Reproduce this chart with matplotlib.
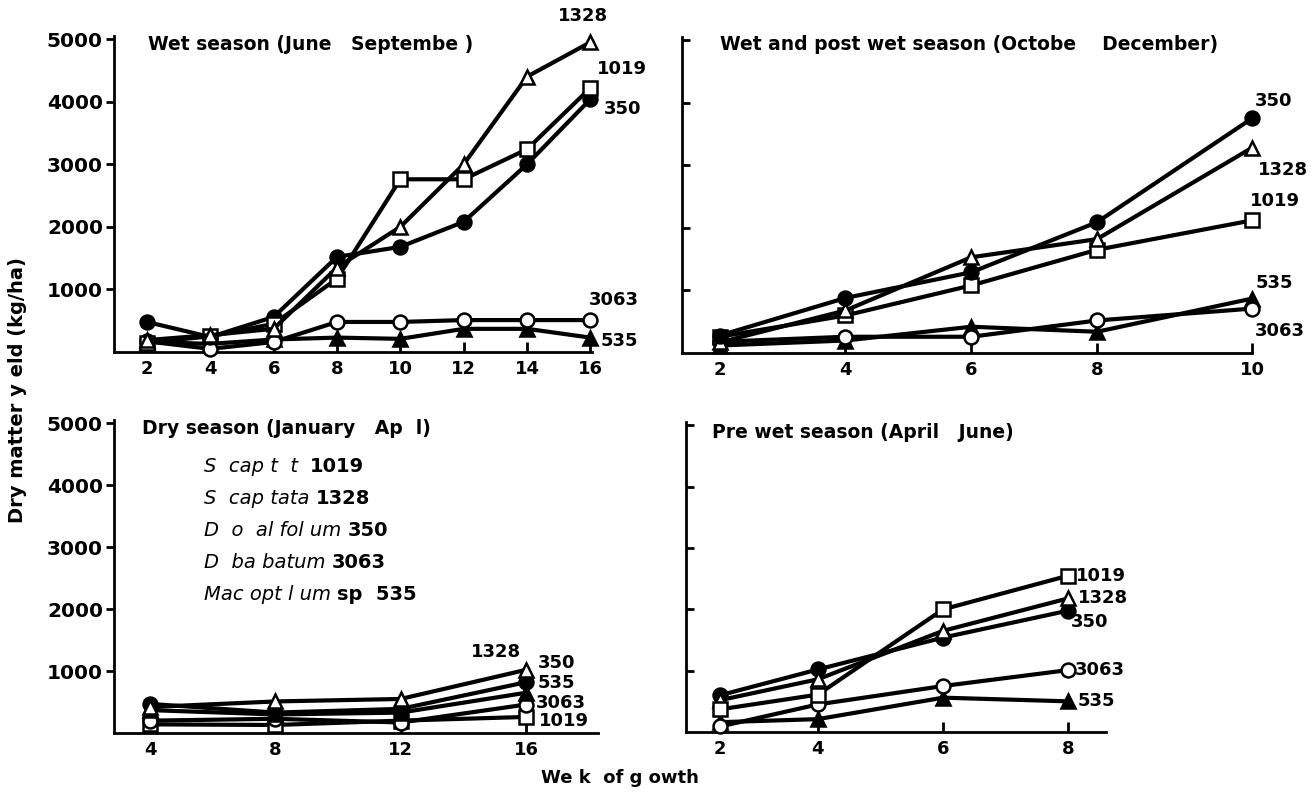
import numpy as np
import matplotlib
matplotlib.use("Agg")
import matplotlib.pyplot as plt

plt.rcParams["font.family"] = ["DejaVu Sans"]
plt.rcParams["font.weight"] = "bold"

# ---- data (kg/ha) ----
weeks_wet = [2, 4, 6, 8, 10, 12, 14, 16]
wet_1328 = [190, 270, 370, 1350, 2000, 3000, 4400, 4950]
wet_1019 = [150, 250, 450, 1170, 2760, 2760, 3240, 4220]
wet_350 = [480, 240, 560, 1520, 1680, 2080, 3000, 4040]
wet_3063 = [170, 50, 160, 480, 480, 510, 510, 510]
wet_535 = [160, 130, 200, 230, 210, 370, 370, 230]

weeks_post = [2, 4, 6, 8, 10]
post_1328 = [170, 680, 1530, 1820, 3280]
post_1019 = [260, 600, 1080, 1650, 2120]
post_350 = [280, 880, 1290, 2090, 3750]
post_3063 = [180, 260, 260, 520, 710]
post_535 = [120, 200, 420, 340, 870]

weeks_dry = [4, 8, 12, 16]
dry_1328 = [420, 510, 550, 1020]
dry_1019 = [140, 130, 200, 260]
dry_350 = [470, 330, 390, 820]
dry_3063 = [200, 230, 170, 460]
dry_535 = [370, 300, 330, 650]

weeks_pre = [2, 4, 6, 8]
pre_1328 = [520, 860, 1650, 2180]
pre_1019 = [370, 610, 2000, 2550]
pre_350 = [600, 1020, 1540, 1980]
pre_3063 = [90, 450, 750, 1010]
pre_535 = [160, 210, 560, 500]

legend_species = ["S  cap t  t ", "S  cap tata", "D  o  al fol um",
                  "D  ba batum", "Mac opt l um"]
legend_codes = ["1019", "1328", "350", "3063", "sp  535"]

titles = ["Wet season (June   Septembe )",
          "Wet and post wet season (Octobe    December)",
          "Dry season (January   Ap  l)",
          "Pre wet season (April   June)"]

# marker style per accession
styles = {
    "1328": dict(marker="^", mfc="white"),
    "1019": dict(marker="s", mfc="white"),
    "350": dict(marker="o", mfc="black"),
    "3063": dict(marker="o", mfc="white"),
    "535": dict(marker="^", mfc="black"),
}


def draw(ax, weeks, series, offsets):
    for name, vals in series:
        ax.plot(weeks, vals, color="black", lw=3, ms=10, mec="black",
                mew=1.8, zorder=3, clip_on=False, **styles[name])
    for name, vals in series:
        dx, dy, ha = offsets[name]
        ax.annotate(name, xy=(weeks[-1], vals[-1]), xytext=(dx, -dy),
                    textcoords="offset pixels", ha=ha, va="center",
                    fontsize=13, fontweight="bold")


def style_axes(ax, show_y):
    for s in ["top", "right"]:
        ax.spines[s].set_visible(False)
    ax.spines["left"].set_linewidth(2)
    ax.spines["bottom"].set_linewidth(2)
    ax.set_ylim(0, 5050)
    ax.set_yticks([1000, 2000, 3000, 4000, 5000])
    ax.tick_params(axis="x", direction="in", length=7, width=2,
                   labelsize=13, pad=6)
    if show_y:
        ax.tick_params(axis="y", direction="out", length=6, width=2,
                       labelsize=14.5, pad=2)
    else:
        ax.tick_params(axis="y", direction="in", length=6, width=2,
                       labelleft=False)
    for lab in ax.get_xticklabels() + ax.get_yticklabels():
        lab.set_fontweight("bold")


fig = plt.figure(figsize=(13.12, 7.96), dpi=100)
ax1 = fig.add_axes([0.0869, 0.5578, 0.3643, 0.397])
ax2 = fig.add_axes([0.5198, 0.5565, 0.4345, 0.397])
ax3 = fig.add_axes([0.0869, 0.0791, 0.3689, 0.393])
ax4 = fig.add_axes([0.5229, 0.0804, 0.3200, 0.389])

# top left
draw(ax1, weeks_wet, [("535", wet_535), ("3063", wet_3063), ("350", wet_350),
                      ("1019", wet_1019), ("1328", wet_1328)],
     {"1328": (-7, -26, "center"), "1019": (7, -19, "left"),
      "350": (13, 10, "left"), "3063": (-2, -20, "left"),
      "535": (10, 3, "left")})
ax1.set_xlim(0.96, 16.05)
ax1.set_xticks(weeks_wet)
style_axes(ax1, True)


# top right: week 10 sits further out on the original axis
def fwd_post(x):
    x = np.asarray(x, dtype=float)
    return np.where(x <= 8, x, 8 + (x - 8) * 1.233)


def inv_post(y):
    y = np.asarray(y, dtype=float)
    return np.where(y <= 8, y, 8 + (y - 8) / 1.233)


ax2.set_xscale("function", functions=(fwd_post, inv_post))
draw(ax2, weeks_post, [("535", post_535), ("3063", post_3063),
                       ("1019", post_1019), ("1328", post_1328),
                       ("350", post_350)],
     {"350": (3, -17, "left"), "1328": (6, 22, "left"),
      "1019": (-2, -19, "left"), "535": (4, -16, "left"),
      "3063": (3, 22, "left")})
ax2.set_xlim(1.4, 10)
ax2.set_xticks(weeks_post)
style_axes(ax2, False)

# bottom left
draw(ax3, weeks_dry, [("1019", dry_1019), ("3063", dry_3063),
                      ("535", dry_535), ("350", dry_350),
                      ("1328", dry_1328)],
     {"1328": (-5, -18, "right"), "350": (12, -19, "left"),
      "535": (12, -10, "left"), "3063": (10, -2, "left"),
      "1019": (13, 4, "left")})
ax3.set_xlim(2.85, 18.3)
ax3.set_xticks(weeks_dry)
style_axes(ax3, True)


# bottom right: weeks 2-4 are closer together on the original axis
def fwd_pre(x):
    x = np.asarray(x, dtype=float)
    return np.where(x >= 4, x, 4 - (4 - x) * 0.78)


def inv_pre(y):
    y = np.asarray(y, dtype=float)
    return np.where(y >= 4, y, 4 - (4 - y) / 0.78)


ax4.set_xscale("function", functions=(fwd_pre, inv_pre))
draw(ax4, weeks_pre, [("535", pre_535), ("3063", pre_3063), ("350", pre_350),
                      ("1328", pre_1328), ("1019", pre_1019)],
     {"1019": (8, 0, "left"), "1328": (10, 0, "left"),
      "350": (2, 11, "left"), "3063": (6, 0, "left"),
      "535": (9, 0, "left")})
ax4.set_xlim(1.3, 8.6)
ax4.set_xticks(weeks_pre)
style_axes(ax4, False)

# panel titles (pixel positions in the 1312x796 figure)
title_pos = [(148, 45), (720, 45), (142, 428), (712, 433)]
for t, (px, py) in zip(titles, title_pos):
    fig.text(px / 1312, 1 - py / 796, t, fontsize=13.5, fontweight="bold",
             va="center")

# species key in the dry season panel
for i, (sp, code) in enumerate(zip(legend_species, legend_codes)):
    y = 1 - (467 + i * 32) / 796
    t = fig.text(204 / 1312, y, sp, fontsize=14, style="italic",
                 fontweight="normal", va="center")
    ax3.annotate(code, xy=(1, 0.5), xycoords=t, xytext=(6, 0),
                 textcoords="offset pixels", va="center", fontsize=14,
                 fontweight="bold", annotation_clip=False)

fig.text(18 / 1312, 1 - 390 / 796, "Dry matter y eld (kg/ha)", rotation=90,
         ha="center", va="center", fontsize=14, fontweight="bold")
fig.text(620 / 1312, 1 - 778 / 796, "We k  of g owth", ha="center",
         va="center", fontsize=13, fontweight="bold")

fig.savefig("out.png", dpi=100)
